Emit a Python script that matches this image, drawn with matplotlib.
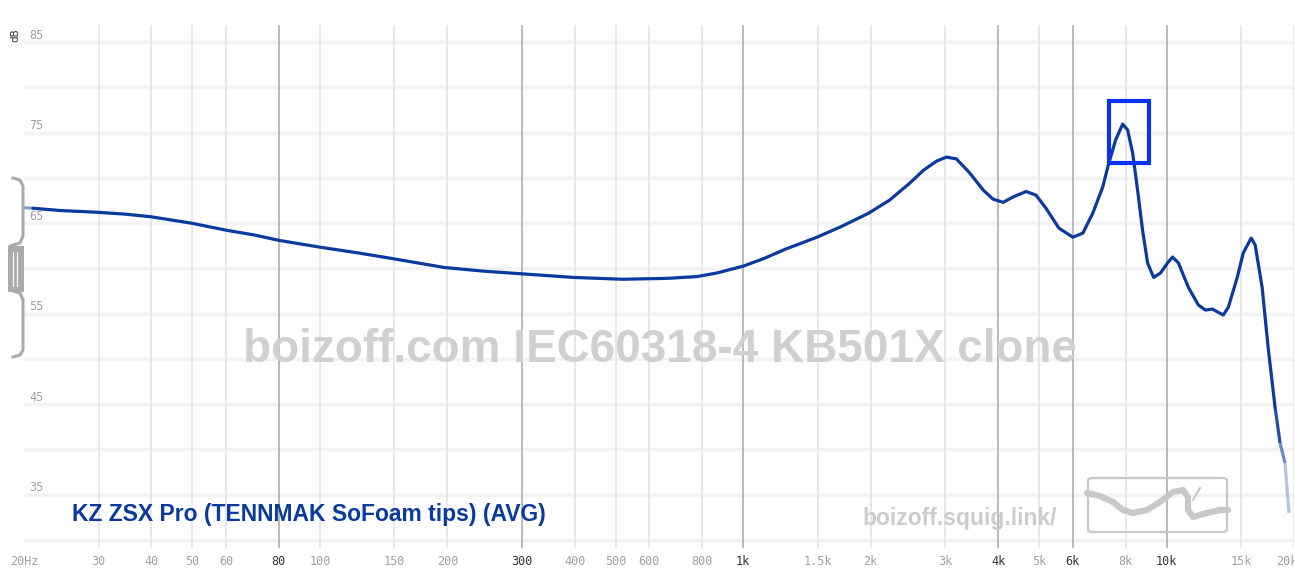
"""Frequency response graph, squig.link style."""

import matplotlib
matplotlib.use("Agg")
import matplotlib.pyplot as plt
from matplotlib.collections import LineCollection
from matplotlib.patches import FancyBboxPatch, Rectangle
import numpy as np

W, H = 1294, 580

freq = [20, 21.0, 24.3, 29.9, 34.6, 40.0, 49.7, 60.4, 69.9, 80, 99.9, 123.5, 147.7,
        196.8, 243, 300, 398, 519, 662, 779, 868, 1000, 1120, 1269, 1339, 1493,
        1691, 1978, 2217, 2471, 2666, 2860, 3020, 3188, 3420, 3690, 3894, 4112,
        4341, 4656, 4916, 5190, 5567, 6008, 6342, 6694, 7067, 7300, 7582, 7875,
        8092, 8315, 8542, 8777, 9020, 9318, 9678, 10052, 10328, 10668, 11262,
        11890, 12350, 12828, 13180, 13616, 13990, 14688, 15172, 15844, 16190,
        16818, 17372, 18044, 18540, 19048, 19464]
spl = [66.7, 66.65, 66.4, 66.2, 66.0, 65.7, 65.0, 64.2, 63.7, 63.1, 62.35, 61.7, 61.1,
       60.1, 59.7, 59.4, 59.0, 58.8, 58.9, 59.1, 59.5, 60.25, 61.1, 62.2, 62.6,
       63.45, 64.55, 66.1, 67.55, 69.4, 70.85, 71.85, 72.3, 72.1, 70.6, 68.65,
       67.65, 67.3, 67.9, 68.5, 68.1, 66.65, 64.45, 63.45, 63.9, 66.1, 69.0,
       71.6, 74.2, 75.95, 75.3, 72.75, 68.65, 64.2, 60.6, 59.0, 59.5, 60.6,
       61.25, 60.6, 57.9, 55.95, 55.4, 55.5, 55.2, 54.85, 55.7, 59.0, 61.7,
       63.35, 62.6, 57.9, 51.3, 44.65, 40.7, 38.5, 32.95]

grid_freqs = [30, 40, 50, 60, 80, 100, 150, 200, 300, 400, 500, 600, 800, 1000,
              1500, 2000, 3000, 4000, 5000, 6000, 8000, 10000, 15000, 20000]
grid_labels = ["30", "40", "50", "60", "80", "100", "150", "200", "300", "400",
               "500", "600", "800", "1k", "1.5k", "2k", "3k", "4k", "5k", "6k",
               "8k", "10k", "15k", "20kHz"]
major_freqs = [80, 300, 1000, 4000, 6000, 10000]
db_ticks = [85, 75, 65, 55, 45, 35]
db_grid = list(range(30, 90, 5))

# highlighted peak window (Hz, dB)
box_f = (7295, 9065)
box_db = (71.7, 78.5)

LINE = "#0a3a9e"


def px(x, y):
    return x / W, 1 - y / H


fig = plt.figure(figsize=(W / 100, H / 100), dpi=100)
fig.patch.set_facecolor("white")
ax = fig.add_axes([24 / W, 1 - 548 / H, 1 - 24 / W, (548 - 25) / H])
ax.set_xscale("log")
ax.set_xlim(20, 19470)
ax.set_ylim(29.1, 86.9)
for s in ax.spines.values():
    s.set_visible(False)
ax.tick_params(length=0)
ax.set_yticks([])
ax.minorticks_off()

# grid
for d in db_grid:
    ax.axhline(d, color="#f3f3f3", lw=2.4, zorder=0)
for f in grid_freqs:
    major = f in major_freqs
    ax.axvline(f, color="#b4b4b4" if major else "#e6e6e6", lw=1.3, zorder=0)

ax.set_xticks(grid_freqs + [20])
ax.set_xticklabels(grid_labels + ["20Hz"], fontsize=8.5, family="DejaVu Sans Mono",
                   color="#a0a0a0")
for lab, f in zip(ax.get_xticklabels(), grid_freqs + [20]):
    if f in major_freqs:
        lab.set_color("#333333")
ax.tick_params(axis="x", pad=5)

for d in db_ticks:
    ax.annotate(str(d), xy=(0, d), xycoords=("axes fraction", "data"),
                xytext=(4, 5), textcoords="offset points", fontsize=8.5,
                family="DejaVu Sans Mono", color="#a0a0a0", va="center")
fig.text(*px(15, 35), "dB", rotation=90, fontsize=7.5, color="#333333",
         ha="center", va="center")

# watermark
ax.text(0.501, 0.379, "boizoff.com IEC60318-4 KB501X clone", transform=ax.transAxes,
        fontsize=33, fontweight="bold", family="Liberation Sans", color="#d0d0d0",
        ha="center", va="center", zorder=1)
fig.text(*px(960, 519), "boizoff.squig.link/", fontsize=16.5, fontweight="bold",
         family="Liberation Sans", color="#cccccc", ha="center", va="center")

# curve, fading at both ends
x = np.array(freq)
y = np.array(spl)
ax.plot(x[1:-3], y[1:-3], color=LINE, lw=2.3, solid_capstyle="round",
        solid_joinstyle="round", zorder=3)
pts = np.column_stack([x, y]).reshape(-1, 1, 2)
segs = np.concatenate([pts[:-1], pts[1:]], axis=1)
keep = [0, len(segs) - 3, len(segs) - 2, len(segs) - 1]
alphas = [0.5, 0.9, 0.6, 0.3]
lc = LineCollection(segs[keep], colors=[(0.04, 0.23, 0.62, a) for a in alphas],
                    linewidths=2.3, zorder=3)
ax.add_collection(lc)

# selection box around the peak
ax.add_patch(Rectangle((box_f[0], box_db[0]), box_f[1] - box_f[0],
                       box_db[1] - box_db[0], fill=False,
                       edgecolor="#0a32f0", lw=3, zorder=4))

fig.text(*px(72, 515), "KZ ZSX Pro (TENNMAK SoFoam tips) (AVG)", fontsize=16.5,
         fontweight="bold", family="Liberation Sans", color=LINE, va="center")

# logo box
x0, y0 = px(1088, 532)
x1, y1 = px(1227, 478)
fig.add_artist(FancyBboxPatch((x0, y0), x1 - x0, y1 - y0,
                              boxstyle="round,pad=0,rounding_size=0.004",
                              transform=fig.transFigure, fill=False,
                              edgecolor="#c8c8c8", lw=1.6))
sq = [(1087, 493), (1100, 496), (1113, 502), (1123, 510), (1133, 513),
      (1147, 510), (1160, 502), (1173, 492), (1183, 490), (1188, 497),
      (1188, 510), (1193, 517), (1207, 513), (1220, 510), (1228, 510)]
sx, sy = zip(*[px(a, b) for a, b in sq])
fig.add_artist(plt.Line2D(sx, sy, transform=fig.transFigure, color="#c8c8c8",
                          lw=4.5, solid_capstyle="round", solid_joinstyle="round"))
tx, ty = zip(*[px(1193, 500), px(1200, 488)])
fig.add_artist(plt.Line2D(tx, ty, transform=fig.transFigure, color="#c8c8c8", lw=1.5))

# left slider bracket
bx, by = zip(*[px(13, 178), px(20, 180), px(23, 186), px(23, 236), px(20, 243),
               px(10, 246), px(10, 290), px(20, 293), px(23, 300), px(23, 350),
               px(20, 355), px(13, 357)])
fig.add_artist(plt.Line2D(bx, by, transform=fig.transFigure, color="#aaaaaa", lw=2.2))
rx0, ry0 = px(8, 292)
rx1, ry1 = px(24, 246)
fig.add_artist(Rectangle((rx0, ry0), rx1 - rx0, ry1 - ry0, transform=fig.transFigure,
                         facecolor="#aaaaaa", edgecolor="none"))
for lx in (13, 17):
    a, b = zip(*[px(lx, 252), px(lx, 286)])
    fig.add_artist(plt.Line2D(a, b, transform=fig.transFigure, color="white", lw=0.8))

fig.savefig("out.png", dpi=100)
